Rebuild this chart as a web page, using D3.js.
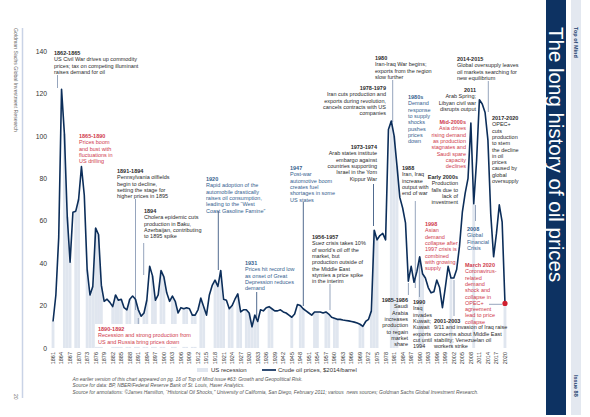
<!DOCTYPE html>
<html><head><meta charset="utf-8">
<script src="https://cdn.jsdelivr.net/npm/d3@7"></script>
<style>
body{margin:0;background:#fff;}
svg{display:block;font-family:"Liberation Sans",Arial,sans-serif;}
</style></head><body>
<svg id="c" width="590" height="417"></svg>
<script>
// ---------- DATA ----------
const years = d3.range(1861, 2021);
const prices = [
 12.5,25,52,122,101,62,40.5,64,64.5,70,            // 1861-1870
 85.5,72,37,25,29,56.5,53.5,29.5,22,23,             // 1871-1880
 21.5,19.5,25,22.5,23,19,18,23,24.5,23,             // 1881-1890
 18,15,16.5,22.5,38.5,34,22.5,25,36.5,33.5,         // 1891-1900
 26,22,24.5,22,16.5,19,18.5,19,18.5,15.5,           // 1901-1910
 15.5,18,23.5,19.5,15.5,25,29.5,32,29,36.5,         // 1911-1920
 23,22.5,18.5,20,23,25.5,17,18,18,16.5,             // 1921-1930
 10,15.5,12.5,18,17.5,19,19.5,18.5,17.5,17.5,       // 1931-1940
 18,17,16.5,15.5,14.5,16,20.5,20,18.5,17.5,         // 1941-1950
 16.5,15.5,17,17,17,16.5,17,16,14.5,14,             // 1951-1960
 13.5,13.5,13.2,13,12.8,12.5,12.2,11.8,11.2,10.2,   // 1961-1970
 12.5,13.5,17.5,55.5,51,53,54,51,103,107,           // 1971-1980
 100,86,71,66,59,31.5,38.5,31,36,43,                // 1981-1990
 35,33,28.5,26,26.5,32,28.5,19,28.5,38.5,           // 1991-2000
 33,33,37,48,64,73,80,106,68,88,                    // 2001-2010
 117,115,111,98,63,43,54,67.5,59.5,21               // 2011-2020
];
const recessionYears = [1861,1865,1866,1867,1869,1870,1873,1874,1875,1876,1877,1878,
 1882,1883,1884,1885,1887,1888,1890,1891,1893,1894,1896,1897,1899,1900,1903,1904,
 1907,1908,1910,1911,1913,1914,1918,1919,1920,1921,1923,1924,1926,1927,
 1929,1930,1931,1932,1933,1937,1938,1945,1948,1949,1953,1954,1957,1958,1960,1961,
 1969,1970,1973,1974,1975,1980,1981,1982,1990,1991,2001,2009,2020];
const yTicks = [0,20,40,60,80,100,120,140];
const xTickYears = d3.range(1861, 2021, 3);
const legendLabels = ["US recession", "Crude oil prices, $2014/barrel"];

// ---------- STYLE ----------
const NAVY = "#0c2e5a", DARK = "#2a2a2a", RED = "#cf3a4c", BLUE = "#36628f";
const REC = "#e0e6ef";

const svg = d3.select("#c");
const x = d3.scaleBand().domain(years).range([51.6, 506.4]).padding(0);
const bw = x.bandwidth();
const cx = yr => x(yr) + bw / 2;
const y = d3.scaleLinear().domain([0, 140]).range([348, 51]);

const data = years.map((yr, i) => ({year: yr, price: prices[i]}));
const priceOf = yr => prices[years.indexOf(yr)];

// Page decorations
svg.append("rect").attr("x", 546).attr("y", 0).attr("width", 20).attr("height", 415).attr("fill", "#0d3262");
svg.append("rect").attr("x", 571).attr("y", 0).attr("width", 10).attr("height", 415).attr("fill", "#e3e8f0");
svg.append("text").attr("transform", "translate(549,27) rotate(90)")
  .attr("fill", "#fff").attr("font-size", 20.5).text("The long history of oil prices");
svg.append("text").attr("transform", "translate(574,27) rotate(90)")
  .attr("fill", "#1d3f6e").attr("font-size", 5.5).attr("font-weight", "bold").text("Top of Mind");
svg.append("text").attr("transform", "translate(574,375) rotate(90)")
  .attr("fill", "#1d3f6e").attr("font-size", 5.5).attr("font-weight", "bold").text("Issue 88");
svg.append("line").attr("x1", 22.5).attr("x2", 22.5).attr("y1", 28).attr("y2", 398)
  .attr("stroke", "#c9d3e6").attr("stroke-width", 1.5);
svg.append("text").attr("transform", "translate(14,28) rotate(90)")
  .attr("fill", "#666").attr("font-size", 5.2).text("Goldman Sachs Global Investment Research");
svg.append("text").attr("transform", "translate(14,394) rotate(90)")
  .attr("fill", "#666").attr("font-size", 5).text("20");

// Recession bars
svg.append("g").selectAll("rect").data(recessionYears).join("rect")
  .attr("x", d => x(d)).attr("width", bw)
  .attr("y", d => y(priceOf(d))).attr("height", d => y(0) - y(priceOf(d)))
  .attr("fill", REC);

// Axes
const yAxis = svg.append("g").attr("transform", "translate(47,0)")
  .call(d3.axisLeft(y).tickValues(yTicks).tickSize(0).tickPadding(0));
yAxis.select(".domain").remove();
yAxis.selectAll("text").attr("font-size", 6.8).attr("fill", "#333").attr("font-family", "Liberation Sans, Arial, sans-serif");

const xAxis = svg.append("g").attr("transform", "translate(0,348)")
  .call(d3.axisBottom(x).tickValues(xTickYears).tickSize(0));
xAxis.select(".domain").remove();
xAxis.selectAll("text").attr("transform", "rotate(-90)").attr("x", -4).attr("y", 0)
  .attr("dy", "0.35em").style("text-anchor", "end")
  .attr("font-size", 5.5).attr("fill", "#333").attr("font-family", "Liberation Sans, Arial, sans-serif");

// Annotation connectors
const connectors = [
 [57.5,75,57.5,88,0],[135.5,199,135.5,310,0],[143.7,243,143.7,275,0],[138.3,318,138.3,326,0],
 [218.3,211,218.3,270,1],[256.7,292,256.7,318,1],[303.3,202,303.3,306,1],[330,284,330,310,0],
 [373.5,184,373.5,226,1],[392.7,80,392.7,122,0],[415.3,201,415.3,288,0],[408.4,283,408.4,295,0],
 [419.5,262,419.5,297,0],[454,280,454,316,0],[488.3,81,488.3,112,0],[475.5,205,475.5,221,0],
 [489,304.3,502,304.3,0]
];
svg.append("g").selectAll("line").data(connectors).join("line")
  .attr("x1", d => d[0]).attr("y1", d => d[1]).attr("x2", d => d[2]).attr("y2", d => d[3])
  .attr("stroke", d => d[4] ? "#3d5a82" : "#8a9bb5").attr("stroke-width", 0.9);

// Price line
svg.append("path").datum(data)
  .attr("d", d3.line().x(d => cx(d.year)).y(d => y(d.price)))
  .attr("fill", "none").attr("stroke", NAVY).attr("stroke-width", 1.6)
  .attr("stroke-linejoin", "round");
svg.append("circle").attr("cx", cx(2020)).attr("cy", y(priceOf(2020))).attr("r", 2.6).attr("fill", "#d01f2f");

// Annotations
const annots = [
 {x:54,y:53,a:"start",c:DARK,t:"1862-1865",l:["US Civil War drives up commodity","prices; tax on competing illuminant","raises demand for oil"]},
 {x:79,y:136,a:"start",c:RED,t:"1865-1890",l:["Prices boom","and bust with","fluctuations in","US drilling"]},
 {x:117,y:171,a:"start",c:DARK,t:"1891-1894",l:["Pennsylvania oilfields","begin to decline,","setting the stage for","higher prices in 1895"]},
 {x:144,y:211,a:"start",c:DARK,t:"1894",l:["Cholera epidemic cuts","production in Baku,","Azerbaijan, contributing","to 1895 spike"]},
 {x:98,y:329,a:"start",c:RED,t:"1890-1892",l:["Recession and strong production from","US and Russia bring prices down"],bg:true},
 {x:206,y:179,a:"start",c:BLUE,t:"1920",l:["Rapid adoption of the","automobile drastically","raises oil consumption,","leading to the \u201cWest","Coast Gasoline Famine\u201d"]},
 {x:245,y:263,a:"start",c:BLUE,t:"1931",l:["Prices hit record low","as onset of Great","Depression reduces","demand"]},
 {x:290,y:168,a:"start",c:BLUE,t:"1947",l:["Post-war","automotive boom","creates fuel","shortages in some","US states"]},
 {x:312,y:237,a:"start",c:DARK,t:"1956-1957",l:["Suez crisis takes 10%","of world\u2019s oil off the","market, but","production outside of","the Middle East","stymies a price spike","in the interim"]},
 {x:377,y:147,a:"end",c:DARK,t:"1973-1974",l:["Arab states institute","embargo against","countries supporting","Israel in the Yom","Kippur War"]},
 {x:386,y:88,a:"end",c:DARK,t:"1978-1979",l:["Iran cuts production and","exports during revolution,","cancels contracts with US","companies"]},
 {x:375,y:58,a:"start",c:DARK,t:"1980",l:["Iran-Iraq War begins;","exports from the region","slow further"]},
 {x:408,y:97,a:"start",c:BLUE,t:"1980s",l:["Demand","response","to supply","shocks","pushes","prices","down"]},
 {x:402,y:168,a:"start",c:DARK,t:"1988",l:["Iran, Iraq","increase","output with","end of war"]},
 {x:458,y:177,a:"end",c:DARK,t:"Early 2000s",l:["Production","falls due to","lack of","investment"]},
 {x:466,y:122,a:"end",c:RED,t:"Mid-2000s",l:["Asia drives","rising demand","as production","stagnates and","Saudi spare","capacity","declines"]},
 {x:476,y:90,a:"end",c:DARK,t:"2011",l:["Arab Spring;","Libyan civil war","disrupts output"]},
 {x:457,y:59,a:"start",c:DARK,t:"2014-2015",l:["Global oversupply leaves","oil markets searching for","new equilibrium"]},
 {x:492,y:118,a:"start",c:DARK,t:"2017-2020",l:["OPEC+","cuts","production","to stem","the decline","in oil","prices","caused by","global","oversupply"]},
 {x:467,y:229,a:"start",c:BLUE,t:"2008",l:["Global","Financial","Crisis"]},
 {x:425,y:224,a:"start",c:RED,t:"1998",l:["Asian","demand","collapse after","1997 crisis is","combined","with growing","supply"]},
 {x:465,y:265,a:"start",c:RED,t:"March 2020",l:["Coronavirus-","related","demand","shock and","collapse in","OPEC+","agreement","lead to price","collapse"]},
 {x:408,y:300,a:"end",c:DARK,t:"1985-1986",l:["Saudi","Arabia","increases","production","to regain","market","share"]},
 {x:413,y:302,a:"start",c:DARK,t:"1990",l:["Iraq","invades","Kuwait;","Kuwait","exports","cut until","1994"]},
 {x:434,y:321,a:"start",c:DARK,t:"2001-2003",l:["9/11 and invasion of Iraq raise","concerns about Middle East","stability; Venezuelan oil","workers strike"]}
];
const LH = 6.3;
const ag = svg.append("g").attr("font-size", 5.5);
annots.forEach(an => {
  if (an.bg) {
    ag.append("rect").attr("x", an.x - 3).attr("y", an.y - 5).attr("width", 104)
      .attr("height", (an.l.length + 1) * LH + 4).attr("fill", "#fff");
  }
  const t = ag.append("text").attr("text-anchor", an.a).attr("fill", an.c);
  t.append("tspan").attr("x", an.x).attr("y", an.y + 2).attr("font-weight", "bold").text(an.t);
  an.l.forEach((s, i) => t.append("tspan").attr("x", an.x).attr("y", an.y + 2 + (i + 1) * LH).text(s));
});

// Legend
const lg = svg.append("g").attr("font-size", 6).attr("fill", "#333");
lg.append("rect").attr("x", 197).attr("y", 368).attr("width", 11).attr("height", 4).attr("fill", REC);
lg.append("text").attr("x", 211).attr("y", 372.2).text(legendLabels[0]);
lg.append("line").attr("x1", 262).attr("x2", 276).attr("y1", 370).attr("y2", 370).attr("stroke", NAVY).attr("stroke-width", 1.7);
lg.append("text").attr("x", 278).attr("y", 372.2).text(legendLabels[1]);

// Footnotes
const notes = [
 "An earlier version of this chart appeared on pg. 16 of Top of Mind issue #63: Growth and Geopolitical Risk.",
 "Source for data: BP, NBER/Federal Reserve Bank of St. Louis, Haver Analytics.",
 "Source for annotations: \u00a9James Hamilton, \u201cHistorical Oil Shocks,\u201d University of California, San Diego, February 2011; various  news sources; Goldman Sachs Global Investment Research."
];
svg.append("g").selectAll("text").data(notes).join("text")
  .attr("x", 72.5).attr("y", (d, i) => 380.5 + i * 6.6)
  .attr("font-size", 4.9).attr("font-style", "italic").attr("fill", "#555")
  .attr("xml:space", "preserve").text(d => d);
</script>
</body></html>
